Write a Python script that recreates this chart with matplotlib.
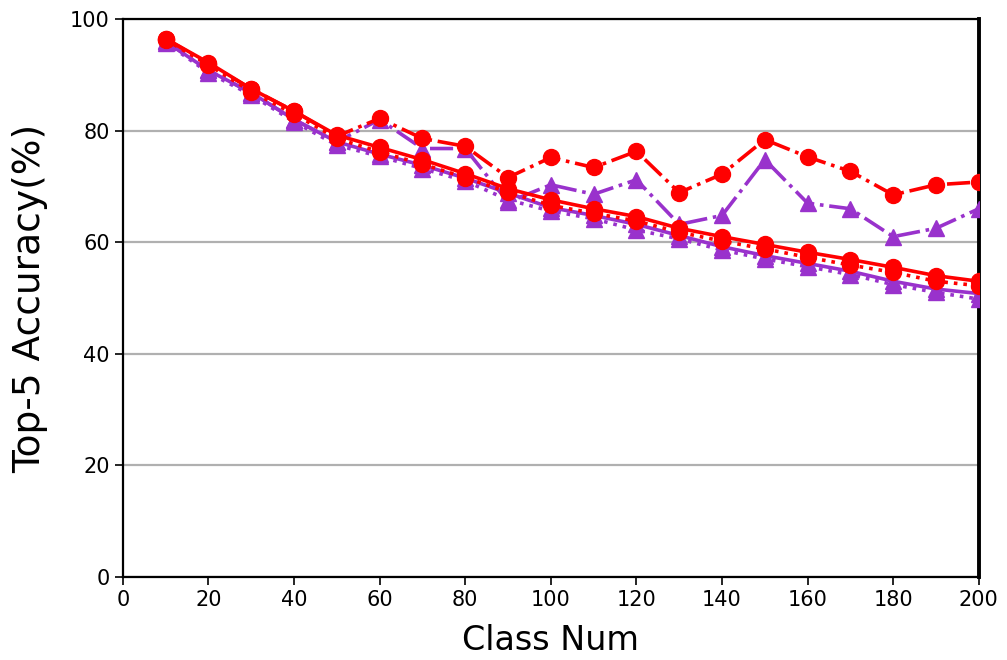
import matplotlib
matplotlib.use('Agg')
import matplotlib.pyplot as plt

# ── Data ──
class_num = [10, 20, 30, 40, 50, 60, 70, 80, 90, 100,
             110, 120, 130, 140, 150, 160, 170, 180, 190, 200]

red_solid = [96.5, 92.2, 87.5, 83.5, 79.2, 77.0, 74.8, 72.3, 69.6, 67.6,
             66.0, 64.6, 62.5, 61.0, 59.6, 58.2, 56.9, 55.5, 54.0, 53.0]
red_dotted = [96.3, 91.8, 87.0, 83.0, 78.6, 76.2, 74.0, 71.6, 69.0, 66.6,
              65.2, 63.8, 61.8, 60.2, 58.8, 57.3, 55.9, 54.6, 53.0, 52.2]
red_dashdot = [96.5, 92.0, 87.5, 83.5, 79.0, 82.2, 78.6, 77.2, 71.6, 75.2,
               73.4, 76.3, 68.9, 72.2, 78.4, 75.3, 72.7, 68.5, 70.3, 70.8]

purple_solid = [96.0, 90.8, 86.8, 82.0, 78.0, 75.8, 73.8, 71.5, 68.8, 66.2,
                64.8, 63.2, 61.2, 59.2, 57.6, 56.2, 54.8, 53.0, 51.6, 50.8]
purple_dotted = [95.8, 90.4, 86.4, 81.6, 77.4, 75.4, 73.2, 71.0, 67.6, 65.6,
                 64.2, 62.2, 60.6, 58.6, 57.0, 55.6, 54.2, 52.4, 51.0, 49.8]
purple_dashdot = [96.0, 90.8, 86.8, 82.0, 78.0, 82.0, 76.8, 76.8, 67.2, 70.3,
                  68.6, 71.2, 63.2, 64.8, 74.8, 67.0, 66.0, 61.0, 62.5, 66.0]

RED = '#FF0000'
PURPLE = '#9932CC'

fig = plt.figure(figsize=(10.07, 6.6), dpi=100)
ax = fig.add_axes([0.122, 0.126, 0.850, 0.845])

lw = 2.6
ms = 11.5
# purple first, red on top
ax.plot(class_num, purple_dotted, color=PURPLE, linestyle=':', marker='^',
        lw=lw, ms=ms, zorder=3)
ax.plot(class_num, purple_solid, color=PURPLE, linestyle='-', marker='^',
        lw=lw, ms=ms, zorder=3)
ax.plot(class_num, purple_dashdot, color=PURPLE, linestyle='-.', marker='^',
        lw=lw, ms=ms, zorder=3)
ax.plot(class_num, red_dotted, color=RED, linestyle=':', marker='o',
        lw=lw, ms=ms, zorder=4)
ax.plot(class_num, red_solid, color=RED, linestyle='-', marker='o',
        lw=lw, ms=ms, zorder=4)
ax.plot(class_num, red_dashdot, color=RED, linestyle='-.', marker='o',
        lw=lw, ms=ms, zorder=4)

ax.set_xlim(0, 200)
ax.set_ylim(0, 100)
ax.set_xticks(range(0, 201, 20))
ax.set_yticks(range(0, 101, 20))
ax.yaxis.grid(True, color='#B0B0B0', linewidth=1.6)
ax.set_axisbelow(True)

for sp in ax.spines.values():
    sp.set_linewidth(1.6)
    sp.set_color('black')
ax.spines['right'].set_linewidth(2.8)

ax.tick_params(labelsize=15, width=1.2, length=6)
ax.set_xlabel('Class Num', fontsize=24, labelpad=10)
ax.set_ylabel('Top-5 Accuracy(%)', fontsize=27, labelpad=16)

fig.savefig('out.png', dpi=100)
